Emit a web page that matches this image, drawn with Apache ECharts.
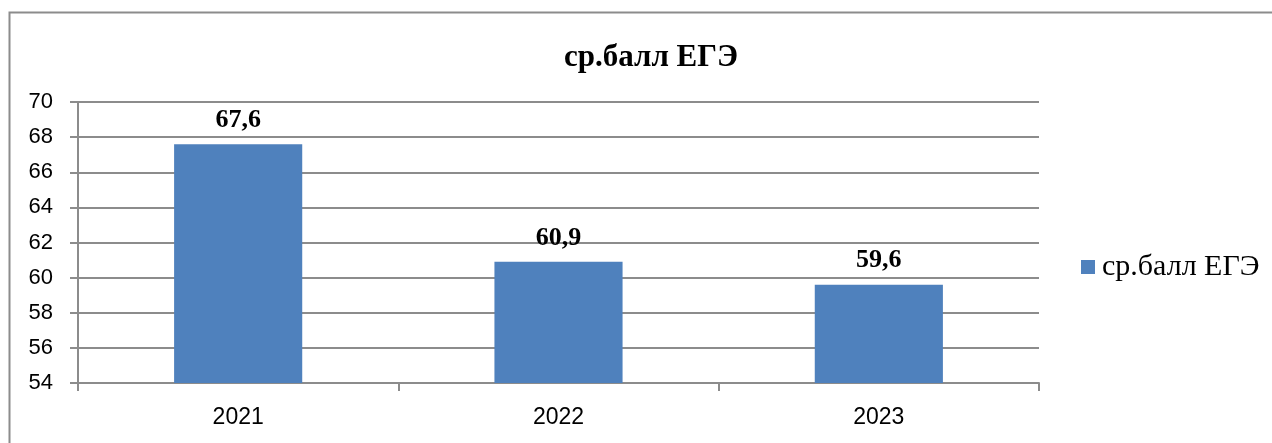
<!DOCTYPE html>
<html>
<head>
<meta charset="utf-8">
<script src="https://cdn.jsdelivr.net/npm/echarts@6/dist/echarts.min.js"></script>
<style>
  html, body { margin: 0; padding: 0; background: #fff; }
  #chart { width: 1272px; height: 443px; }
</style>
</head>
<body>
<div id="chart"></div>
<script>
  const years = ['2021', '2022', '2023']
  const scores = [67.6, 60.9, 59.6]
  const seriesName = 'ср.балл ЕГЭ'
  const axisGray = '#8c8c8c'

  const chart = echarts.init(document.getElementById('chart'))

  chart.setOption({
    animation: false,
    title: {
      text: 'ср.балл ЕГЭ',
      left: 646,
      top: 37,
      textAlign: 'center',
      textStyle: { fontFamily: 'Liberation Serif', fontWeight: 'bold', fontSize: 31, color: '#000' }
    },
    // outer frame, only top and left edges are inside the picture
    graphic: [{
      type: 'rect',
      shape: { x: 9.5, y: 12.5, width: 1400, height: 600 },
      style: { fill: 'none', stroke: axisGray, lineWidth: 2 },
      silent: true
    }],
    legend: {
      data: [seriesName],
      left: 1076,
      top: 247,
      itemWidth: 14,
      itemHeight: 14,
      itemGap: 4,
      icon: 'rect',
      textStyle: { fontFamily: 'Liberation Serif', fontSize: 30, color: '#000', padding: [0, 0, 0, 2] }
    },
    grid: {
      left: 78,
      right: 233,
      top: 102,
      bottom: 60
    },
    xAxis: {
      type: 'category',
      data: years,
      axisLine: { lineStyle: { color: axisGray, width: 2 } },
      axisTick: { show: true, length: 8, lineStyle: { color: axisGray, width: 2 } },
      axisLabel: { fontFamily: 'Liberation Sans', fontSize: 23, color: '#000', margin: 23 }
    },
    yAxis: {
      type: 'value',
      min: 54,
      max: 70,
      interval: 2,
      axisLine: { show: true, lineStyle: { color: axisGray, width: 2 } },
      axisTick: { show: true, length: 8, lineStyle: { color: axisGray, width: 2 } },
      splitLine: { lineStyle: { color: axisGray, width: 2 } },
      axisLabel: { fontFamily: 'Liberation Sans', fontSize: 22, color: '#000', margin: 25 }
    },
    series: [{
      name: seriesName,
      type: 'bar',
      data: scores,
      barWidth: '40%',
      itemStyle: { color: '#4f81bd' },
      label: {
        show: true,
        position: 'top',
        distance: 11,
        formatter: p => String(p.value).replace('.', ','),
        fontFamily: 'Liberation Serif',
        fontWeight: 'bold',
        fontSize: 26,
        color: '#000'
      }
    }]
  })
</script>
</body>
</html>
